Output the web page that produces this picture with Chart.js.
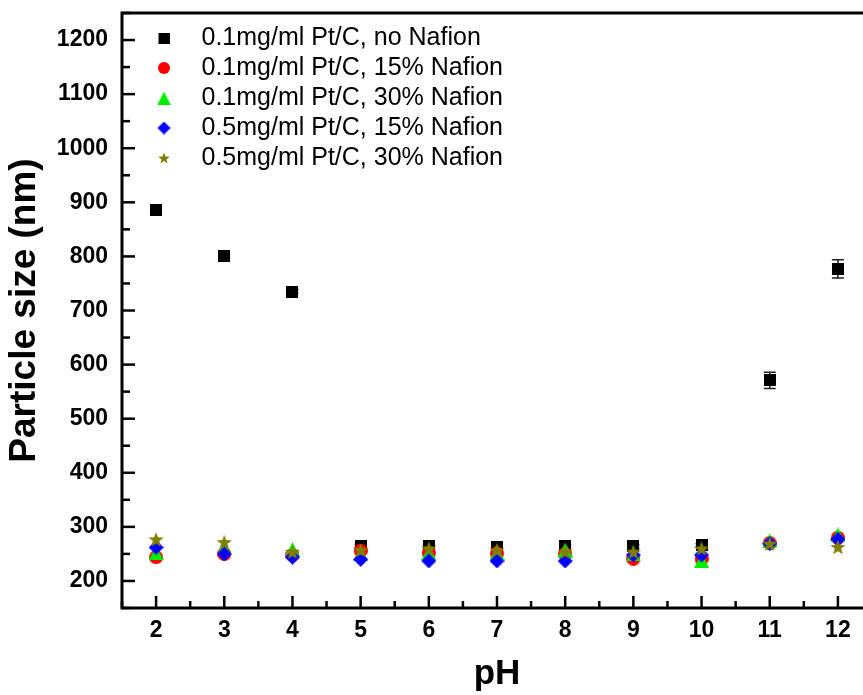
<!DOCTYPE html>
<html>
<head>
<meta charset="utf-8">
<script src="https://cdn.jsdelivr.net/npm/chart.js@4.4.1/dist/chart.umd.min.js"></script>
<style>
  html, body { margin: 0; padding: 0; background: #fff; width: 863px; height: 695px; overflow: hidden; }
  #wrap { width: 880px; height: 695px; }
</style>
</head>
<body>
<div id="wrap"><canvas id="c" width="880" height="695"></canvas></div>
<script>
// ---- data ----
const pH = [2, 3, 4, 5, 6, 7, 8, 9, 10, 11, 12];
const seriesLabels = [
  '0.1mg/ml Pt/C, no Nafion',
  '0.1mg/ml Pt/C, 15% Nafion',
  '0.1mg/ml Pt/C, 30% Nafion',
  '0.5mg/ml Pt/C, 15% Nafion',
  '0.5mg/ml Pt/C, 30% Nafion'
];
const pt01NoNafion    = [886, 801, 735, 265, 264, 263, 264, 264, 266, 571, 777];
const pt01NoNafionErr = [3, 3, 3, 3, 3, 3, 3, 3, 3, 15, 17];
const pt01Nafion15    = [244, 250, 248, 256, 252, 251, 250, 241, 241, 270, 280];
const pt01Nafion30    = [252, 261, 258, 250, 252, 252, 257, 250, 238, 274, 285];
const pt05Nafion15    = [262, 250, 244, 240, 237, 237, 237, 248, 248, 269, 277];
const pt05Nafion30    = [277, 272, 254, 257, 260, 257, 254, 254, 260, 269, 263];
const xTicks = [2, 3, 4, 5, 6, 7, 8, 9, 10, 11, 12];
const yTicks = [200, 300, 400, 500, 600, 700, 800, 900, 1000, 1100, 1200];

// ---- marker images ----
function mark(shape, color, size, padLeft) {
  padLeft = padLeft || 0;
  const c = document.createElement('canvas');
  c.width = size + padLeft; c.height = size;
  const g = c.getContext('2d');
  g.fillStyle = color;
  const cx = padLeft + size / 2, cy = size / 2, r = size / 2;
  g.beginPath();
  if (shape === 'square') {
    g.rect(padLeft, 0, size, size);
  } else if (shape === 'circle') {
    g.arc(cx, cy, r, 0, Math.PI * 2);
  } else if (shape === 'triangle') {
    g.moveTo(cx, 0); g.lineTo(padLeft + size, size); g.lineTo(padLeft, size);
  } else if (shape === 'diamond') {
    g.moveTo(cx, 0); g.lineTo(padLeft + size, cy); g.lineTo(cx, size); g.lineTo(padLeft, cy);
  } else if (shape === 'star') {
    for (let k = 0; k < 10; k++) {
      const rr = k % 2 === 0 ? r : r * 0.42;
      const a = -Math.PI / 2 + k * Math.PI / 5;
      const px = cx + rr * Math.cos(a), py = cy + r * 0.1 + rr * Math.sin(a);
      if (k === 0) g.moveTo(px, py); else g.lineTo(px, py);
    }
  }
  g.closePath();
  g.fill();
  return c;
}
const colors = ['#000000', '#ff0000', '#00ee00', '#0000ff', '#808000'];
const shapes = ['square', 'circle', 'triangle', 'diamond', 'star'];
const dataSizes = [12, 14, 15, 15, 16];
const legendSizes = [11, 12, 13, 13, 12];
const dataMarks = shapes.map((s, i) => mark(s, colors[i], dataSizes[i], 0));
const legendMarks = shapes.map((s, i) => mark(s, colors[i], legendSizes[i], 12));

const seriesValues = [pt01NoNafion, pt01Nafion15, pt01Nafion30, pt05Nafion15, pt05Nafion30];

const datasets = seriesValues.map((vals, i) => ({
  label: seriesLabels[i],
  data: pH.map((x, k) => ({ x: x, y: vals[k] })),
  pointStyle: dataMarks[i],
  pointRadius: 6,
  backgroundColor: colors[i],
  borderColor: colors[i],
  showLine: false,
  order: 5 - i
}));

// ---- plugins ----
const frameTicks = {
  id: 'frameTicks',
  afterDraw(chart) {
    const { ctx, chartArea: a, scales: { x, y } } = chart;
    ctx.save();
    ctx.strokeStyle = '#000';
    ctx.lineWidth = 2.5;
    for (let v = 1.5; v <= 12.5001; v += 0.5) {
      const px = x.getPixelForValue(v);
      const major = Math.abs(v - Math.round(v)) < 1e-6;
      ctx.beginPath();
      ctx.moveTo(px, a.bottom);
      ctx.lineTo(px, a.bottom - (major ? 12 : 7));
      ctx.stroke();
    }
    for (let v = 150; v <= 1250; v += 50) {
      const py = y.getPixelForValue(v);
      const major = v % 100 === 0;
      ctx.beginPath();
      ctx.moveTo(a.left, py);
      ctx.lineTo(a.left + (major ? 13 : 8), py);
      ctx.stroke();
    }
    ctx.lineWidth = 3;
    ctx.strokeRect(a.left, a.top, a.right - a.left, a.bottom - a.top);
    ctx.restore();
  }
};
const errorBars = {
  id: 'errorBars',
  beforeDatasetsDraw(chart) {
    const { ctx, scales: { x, y } } = chart;
    ctx.save();
    ctx.strokeStyle = '#222';
    ctx.lineWidth = 1.5;
    pH.forEach((p, k) => {
      const px = x.getPixelForValue(p);
      const y1 = y.getPixelForValue(pt01NoNafion[k] + pt01NoNafionErr[k]);
      const y2 = y.getPixelForValue(pt01NoNafion[k] - pt01NoNafionErr[k]);
      ctx.beginPath();
      ctx.moveTo(px, y1); ctx.lineTo(px, y2);
      ctx.moveTo(px - 6, y1); ctx.lineTo(px + 6, y1);
      ctx.moveTo(px - 6, y2); ctx.lineTo(px + 6, y2);
      ctx.stroke();
    });
    ctx.restore();
  }
};

Chart.defaults.font.family = '"Liberation Sans", Arial, sans-serif';
Chart.defaults.color = '#000';

new Chart(document.getElementById('c'), {
  type: 'scatter',
  data: { datasets: datasets },
  plugins: [errorBars, frameTicks],
  options: {
    responsive: false,
    animation: false,
    events: [],
    layout: { padding: { top: 13, right: 8, left: 0, bottom: 0 } },
    scales: {
      x: {
        type: 'linear', min: 1.5, max: 12.5,
        afterBuildTicks: s => { s.ticks = xTicks.map(v => ({ value: v })); },
        afterFit: s => { s.height = 87; s.paddingLeft = 0; s.paddingRight = 0; },
        grid: { display: false, drawTicks: false },
        border: { display: false },
        ticks: { font: { size: 23, weight: 'bold' }, padding: 9, color: '#000', callback: v => String(v) },
        title: { display: true, text: 'pH', font: { size: 35, weight: 'bold' }, padding: { top: 0, bottom: 0 }, color: '#000' }
      },
      y: {
        type: 'linear', min: 150, max: 1250,
        afterBuildTicks: s => { s.ticks = yTicks.map(v => ({ value: v })); },
        afterFit: s => { s.width = 122; s.paddingTop = 0; s.paddingBottom = 0; },
        grid: { display: false, drawTicks: false },
        border: { display: false },
        ticks: { font: { size: 23, weight: 'bold' }, padding: 14, color: '#000', callback: v => String(v) },
        title: { display: true, text: 'Particle size (nm)', font: { size: 37, weight: 'bold' }, padding: { top: 3, bottom: 0 }, color: '#000' }
      }
    },
    plugins: {
      tooltip: { enabled: false },
      legend: {
        position: 'chartArea',
        align: 'start',
        title: { display: true, text: '', font: { size: 20.5, lineHeight: 1 }, padding: 0 },
        labels: {
          usePointStyle: true,
          pointStyleWidth: 62,
          padding: 5,
          color: '#000',
          font: { size: 25 },
          generateLabels: chart => chart.data.datasets.map((ds, i) => ({
            text: ds.label,
            pointStyle: legendMarks[i],
            fillStyle: colors[i],
            strokeStyle: colors[i],
            lineWidth: 0,
            hidden: false,
            datasetIndex: i,
            fontColor: '#000'
          }))
        }
      }
    }
  }
});
</script>
</body>
</html>
